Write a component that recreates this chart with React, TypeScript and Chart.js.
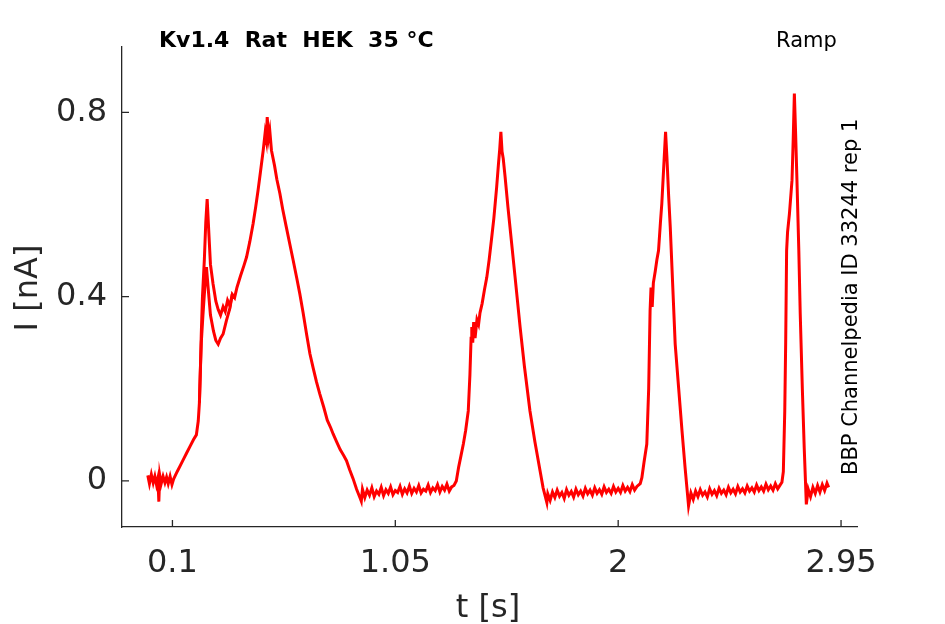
import { useEffect, useRef } from "react";
import { Chart, registerables } from "chart.js";

Chart.register(...registerables);

// sweep 1: time [s] and current [nA]
const timeS = [
  // holding before ramp
  -0.005, 0.002, 0.01, 0.018, 0.025, 0.032, 0.038, 0.042, 0.046, 0.052, 0.06, 0.068, 0.075,
  0.082, 0.09, 0.098, 0.105,
  // first ramp
  0.12, 0.135, 0.15, 0.16, 0.175, 0.19, 0.202, 0.21, 0.215, 0.219, 0.223, 0.228, 0.236, 0.242,
  0.248, 0.255, 0.262, 0.273, 0.285, 0.295, 0.305, 0.316, 0.325, 0.335, 0.345, 0.355, 0.365,
  0.375, 0.39, 0.405, 0.416, 0.43, 0.444, 0.455, 0.465, 0.475, 0.487, 0.495, 0.5, 0.504, 0.51,
  0.515, 0.522, 0.535, 0.545, 0.558, 0.57, 0.585, 0.6, 0.615, 0.63, 0.643, 0.657, 0.672, 0.686,
  0.7, 0.714, 0.728, 0.745, 0.76, 0.775, 0.785, 0.8, 0.815, 0.83, 0.842, 0.855, 0.87, 0.885,
  0.899, 0.905,
  // holding
  0.91, 0.92, 0.93, 0.94, 0.95, 0.96, 0.97, 0.98, 0.99, 1.0, 1.01, 1.02, 1.03, 1.04, 1.05,
  1.06, 1.07, 1.08, 1.09, 1.1, 1.11, 1.12, 1.13, 1.14, 1.15, 1.16, 1.17, 1.18, 1.19, 1.2,
  1.21, 1.22, 1.23, 1.24, 1.25, 1.26, 1.27, 1.28, 1.29, 1.3,
  // second ramp
  1.31, 1.32, 1.33, 1.34, 1.35, 1.361, 1.368, 1.373, 1.376, 1.38, 1.384, 1.39, 1.398, 1.405,
  1.411, 1.42, 1.43, 1.44, 1.45, 1.461, 1.47, 1.482, 1.49, 1.495, 1.5, 1.505, 1.51, 1.518,
  1.53, 1.546, 1.56, 1.582, 1.6, 1.624, 1.645, 1.667, 1.68, 1.696,
  // holding
  1.7, 1.71, 1.72, 1.73, 1.74, 1.75, 1.76, 1.77, 1.78, 1.79, 1.8, 1.81, 1.82, 1.83, 1.84,
  1.85, 1.86, 1.87, 1.88, 1.89, 1.9, 1.91, 1.92, 1.93, 1.94, 1.95, 1.96, 1.97, 1.98, 1.99,
  2.0, 2.01, 2.02, 2.03, 2.04, 2.05, 2.06, 2.07, 2.08, 2.094,
  // third ramp
  2.101, 2.11, 2.122, 2.13, 2.136, 2.14, 2.145, 2.15, 2.158, 2.165, 2.172, 2.18, 2.186, 2.195,
  2.202, 2.208, 2.215, 2.222, 2.232, 2.243, 2.258, 2.272, 2.285, 2.3,
  // holding
  2.31, 2.32, 2.33, 2.34, 2.35, 2.36, 2.37, 2.38, 2.39, 2.4, 2.41, 2.42, 2.43, 2.44, 2.45,
  2.46, 2.47, 2.48, 2.49, 2.5, 2.51, 2.52, 2.53, 2.54, 2.55, 2.56, 2.57, 2.58, 2.59, 2.6,
  2.61, 2.62, 2.63, 2.64, 2.65, 2.66, 2.67, 2.68, 2.69, 2.698,
  // fourth ramp
  2.704, 2.71, 2.714, 2.718, 2.722, 2.73, 2.741, 2.746, 2.751, 2.756, 2.762, 2.77, 2.776,
  2.785, 2.793, 2.802,
  // tail
  2.81, 2.82, 2.83, 2.84, 2.85, 2.86, 2.87, 2.88, 2.89, 2.897,
];
const currentNA = [
  0.012, -0.006, 0.014, -0.004, 0.01, -0.008, 0.006, -0.045, 0.012, -0.006, 0.01, -0.004, 0.008,
  -0.006, 0.01, -0.008, 0.004,
  0.02, 0.035, 0.05, 0.06, 0.075, 0.09, 0.1, 0.13, 0.17, 0.24, 0.32, 0.4, 0.48, 0.56,
  0.612, 0.54, 0.47, 0.428, 0.39, 0.372, 0.36, 0.378, 0.368, 0.392, 0.38, 0.405, 0.398,
  0.42, 0.445, 0.468, 0.486, 0.52, 0.559, 0.595, 0.631, 0.67, 0.718, 0.755, 0.74, 0.79, 0.745,
  0.76, 0.718, 0.685, 0.655, 0.624, 0.59, 0.552, 0.515, 0.478, 0.44, 0.406, 0.365, 0.318, 0.276,
  0.245, 0.215, 0.189, 0.16, 0.132, 0.115, 0.102, 0.085, 0.068, 0.055, 0.044, 0.025, 0.005, -0.018,
  -0.036, -0.044,
  -0.018, -0.036, -0.02, -0.031, -0.015, -0.034, -0.022, -0.029, -0.014, -0.032, -0.019, -0.027, -0.013, -0.03, -0.021,
  -0.025, -0.012, -0.029, -0.017, -0.026, -0.011, -0.027, -0.016, -0.024, -0.01, -0.026, -0.018, -0.022, -0.009, -0.025,
  -0.015, -0.021, -0.008, -0.024, -0.012, -0.02, -0.007, -0.022, -0.013, -0.01,
  0.0, 0.03, 0.055, 0.08, 0.11, 0.152, 0.23, 0.31, 0.334, 0.3, 0.345, 0.31, 0.35, 0.34,
  0.365, 0.385, 0.415, 0.442, 0.48, 0.529, 0.57, 0.638, 0.69, 0.72, 0.758, 0.715, 0.7, 0.66,
  0.595, 0.515, 0.445, 0.334, 0.25, 0.152, 0.085, 0.022, -0.015, -0.047,
  -0.028, -0.042, -0.024, -0.036, -0.02, -0.033, -0.025, -0.038, -0.019, -0.031, -0.023, -0.035, -0.018, -0.03, -0.022,
  -0.033, -0.016, -0.028, -0.02, -0.031, -0.015, -0.027, -0.019, -0.029, -0.013, -0.025, -0.018, -0.027, -0.012, -0.024,
  -0.016, -0.025, -0.01, -0.022, -0.014, -0.023, -0.008, -0.02, -0.012, -0.006,
  0.007, 0.04, 0.08, 0.2, 0.37, 0.42, 0.378, 0.43, 0.455, 0.48, 0.5, 0.56, 0.602, 0.69,
  0.758, 0.7, 0.62, 0.551, 0.43, 0.297, 0.2, 0.109, 0.03, -0.054,
  -0.026, -0.04, -0.022, -0.034, -0.019, -0.031, -0.024, -0.035, -0.017, -0.029, -0.021, -0.032, -0.016, -0.027, -0.02,
  -0.03, -0.014, -0.026, -0.018, -0.028, -0.012, -0.024, -0.017, -0.026, -0.011, -0.022, -0.015, -0.024, -0.009, -0.021,
  -0.013, -0.022, -0.007, -0.019, -0.011, -0.02, -0.006, -0.017, -0.009, -0.003,
  0.02, 0.15, 0.3, 0.5, 0.54, 0.58, 0.653, 0.74, 0.841, 0.76, 0.653, 0.5, 0.363,
  0.2, 0.072, -0.051,
  -0.018, -0.034, -0.014, -0.027, -0.01, -0.024, -0.008, -0.021, -0.005, -0.014,
];

// sweep 2 only differs around the first transient
const timeSweep2 = [
  0.215, 0.219, 0.223, 0.23, 0.238, 0.245, 0.252, 0.262, 0.275, 0.285, 0.295, 0.305, 0.316,
  0.33, 0.345, 0.355,
];
const currentSweep2 = [
  0.17, 0.24, 0.3, 0.36, 0.42, 0.464, 0.42, 0.36, 0.325, 0.305, 0.297, 0.31, 0.319,
  0.348, 0.375, 0.405,
];

const xTickValues = [0.1, 1.05, 2, 2.95];
const xTickLabels = ["0.1", "1.05", "2", "2.95"];
const yTickValues = [0, 0.4, 0.8];
const yTickLabels = ["0", "0.4", "0.8"];

const AXIS = "#262626";
const FONT = '"DejaVu Sans", sans-serif';

const textPlugin = {
  id: "figText",
  afterDraw(chart: any) {
    const { ctx, chartArea, scales } = chart;
    ctx.save();
    // inward tick marks
    ctx.strokeStyle = AXIS;
    ctx.lineWidth = 1.3;
    ctx.beginPath();
    xTickValues.forEach((v) => {
      const px = scales.x.getPixelForValue(v);
      ctx.moveTo(px, chartArea.bottom);
      ctx.lineTo(px, chartArea.bottom - 7);
    });
    yTickValues.forEach((v) => {
      const py = scales.y.getPixelForValue(v);
      ctx.moveTo(chartArea.left, py);
      ctx.lineTo(chartArea.left + 7, py);
    });
    ctx.stroke();

    ctx.fillStyle = "#000";
    ctx.textBaseline = "alphabetic";
    ctx.textAlign = "left";
    ctx.font = `bold 22px ${FONT}`;
    ctx.fillText("Kv1.4  Rat  HEK  35 °C", 159, 47);
    ctx.font = `21px ${FONT}`;
    ctx.fillText("Ramp", 776, 47);

    ctx.save();
    ctx.translate(857, 475);
    ctx.rotate(-Math.PI / 2);
    ctx.fillText("BBP Channelpedia ID 33244 rep 1", 0, 0);
    ctx.restore();

    ctx.fillStyle = AXIS;
    ctx.font = `32px ${FONT}`;
    ctx.textAlign = "center";
    ctx.fillText("t [s]", 488, 617);
    ctx.save();
    ctx.translate(37, 288);
    ctx.rotate(-Math.PI / 2);
    ctx.fillText("I [nA]", 0, 0);
    ctx.restore();
    ctx.restore();
  },
};

export default function App() {
  const canvasRef = useRef<HTMLCanvasElement>(null);

  useEffect(() => {
    if (!canvasRef.current) return;
    const chart = new Chart(canvasRef.current, {
      type: "line",
      data: {
        datasets: [
          {
            data: timeS.map((t, i) => ({ x: t, y: currentNA[i] })),
            borderColor: "#ff0000",
            borderWidth: 3,
            pointRadius: 0,
            tension: 0,
          },
          {
            data: timeSweep2.map((t, i) => ({ x: t, y: currentSweep2[i] })),
            borderColor: "#ff0000",
            borderWidth: 3,
            pointRadius: 0,
            tension: 0,
          },
        ],
      },
      options: {
        animation: false,
        responsive: true,
        maintainAspectRatio: false,
        layout: { padding: { left: 0, right: 88, top: 47, bottom: 0 } },
        plugins: { legend: { display: false }, tooltip: { enabled: false } },
        scales: {
          x: {
            type: "linear",
            min: -0.115,
            max: 3.018,
            grid: { display: false },
            border: { display: true, color: AXIS, width: 1.3 },
            afterBuildTicks: (scale: any) => {
              scale.ticks = xTickValues.map((v) => ({ value: v }));
            },
            afterFit: (scale: any) => {
              scale.height = 97;
            },
            ticks: {
              padding: 9,
              maxRotation: 0,
              autoSkip: false,
              color: AXIS,
              font: { family: FONT, size: 32 },
              callback: (v: any) => xTickLabels[xTickValues.indexOf(Number(v))] ?? "",
            },
          },
          y: {
            type: "linear",
            min: -0.1,
            max: 0.942,
            grid: { display: false },
            border: { display: true, color: AXIS, width: 1.3 },
            afterBuildTicks: (scale: any) => {
              scale.ticks = yTickValues.map((v) => ({ value: v }));
            },
            afterFit: (scale: any) => {
              scale.width = 122;
            },
            ticks: {
              padding: 7,
              color: AXIS,
              font: { family: FONT, size: 32 },
              callback: (v: any) => yTickLabels[yTickValues.indexOf(Number(v))] ?? "",
            },
          },
        },
      },
      plugins: [textPlugin],
    });
    return () => chart.destroy();
  }, []);

  return (
    <div style={{ position: "absolute", left: 0, top: 0, width: 945, height: 624, background: "#fff" }}>
      <canvas ref={canvasRef} />
    </div>
  );
}
